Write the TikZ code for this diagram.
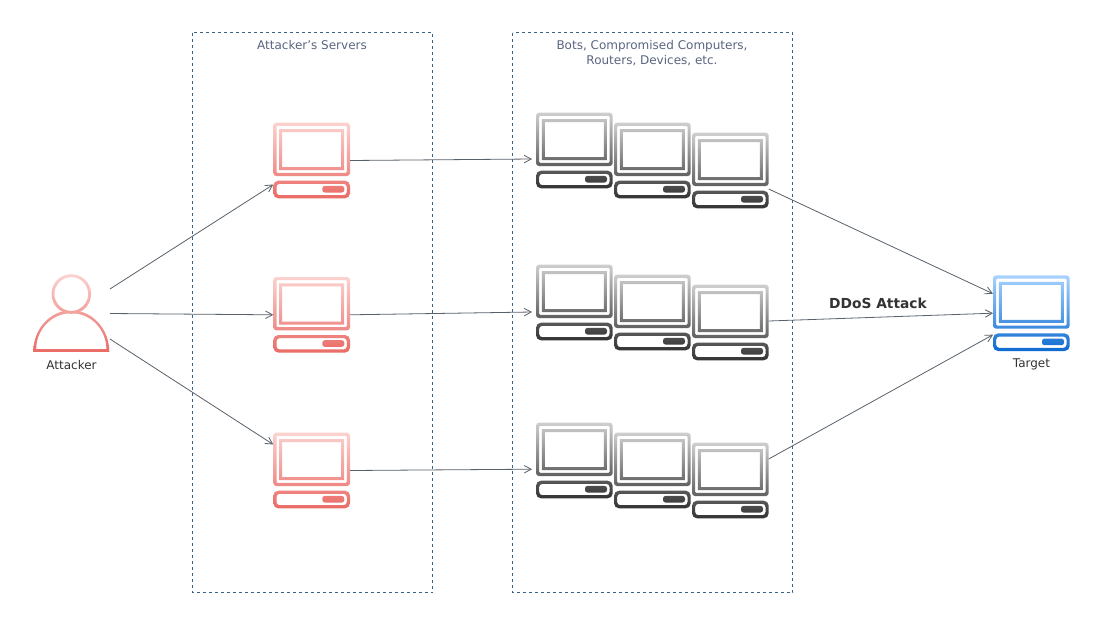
\documentclass[tikz,border=0pt]{standalone}
\usepackage{fontspec}
\setmainfont{DejaVu Sans}
\usetikzlibrary{arrows.meta}
\definecolor{rtop}{HTML}{FBD2CF}
\definecolor{rbot}{HTML}{EA6B66}
\definecolor{gtop}{HTML}{CFCFCF}
\definecolor{gbot}{HTML}{333333}
\definecolor{btop}{HTML}{A9D2FF}
\definecolor{bbot}{HTML}{0F6BD0}
\definecolor{boxc}{HTML}{3A6286}
\definecolor{capc}{HTML}{5A6580}
\definecolor{linkc}{HTML}{59616B}
\definecolor{labc}{HTML}{333333}
\tikzset{
  x=1pt,y=-1pt,
  iconbox/.style={inner sep=0pt,outer sep=0pt,minimum width=76.7pt,minimum height=75.6pt},
  group/.style={draw=boxc,line width=0.8pt,dash pattern=on 3pt off 3pt},
  link/.style={draw=linkc,line width=0.8pt,-{Straight Barb[length=7pt,width=7.5pt,line width=0.8pt]}},
  caption/.style={text=capc,font=\fontsize{12pt}{14.5pt}\selectfont,align=center,inner sep=0pt},
  label/.style={text=labc,font=\fontsize{12pt}{14pt}\selectfont,inner sep=0pt},
}
\newcommand{\computer}[5]{%
  \node[iconbox] (#1) at (#2+38.35,#3+37.8) {};
  \begin{scope}[shift={(#2,#3)}]
    \shade[even odd rule,top color=#4,bottom color=#5]
      [rounded corners=3pt] (0,0) rectangle (76.7,53.3)
      [rounded corners=1pt] (3.2,3.2) rectangle (73.5,50.1)
      [sharp corners] (5.8,6.4) rectangle (70.9,47.5)
      (8.8,9.4) rectangle (67.9,44.5)
      [rounded corners=5pt] (0,58) rectangle (76.7,75.6)
      [rounded corners=3pt] (3.2,61.2) rectangle (73.5,72.4)
      [rounded corners=2.5pt] (49,63.2) rectangle (71,69.8);
  \end{scope}}
\begin{document}
\begin{tikzpicture}
\useasboundingbox[fill=white] (0,0) rectangle (1103,625);

\draw[group] (192.5,32.5) rectangle (432.5,592.5);
\draw[group] (512.5,32.5) rectangle (792.5,592.5);
\node[caption] (capa) at (312,45.5) {Attacker's Servers};
\node[caption] (capb) at (652,53) {Bots, Compromised Computers,\\Routers, Devices, etc.};

% attacker
\node[iconbox,minimum height=77pt] (att) at (71.6,313.5) {};
\shade[even odd rule,top color=rtop!52!rbot,bottom color=rbot]
  (33.3,351.8) arc[start angle=180,delta angle=180,x radius=38,y radius=41.5] -- cycle
  (36.2,349.2) arc[start angle=180,delta angle=180,x radius=35.1,y radius=36] -- cycle;
\fill[white] (71.3,294) circle[radius=19.5];
\shade[even odd rule,top color=rtop,bottom color=rtop!50!rbot]
  (71.3,294) circle[radius=19.8] (71.3,294) circle[radius=16.9];
\node[label] (attl) at (71.5,365.5) {Attacker};

% servers
\computer{s1}{273.3}{122.7}{rtop}{rbot}
\computer{s2}{273.3}{277}{rtop}{rbot}
\computer{s3}{273.3}{432.7}{rtop}{rbot}

% bots
\computer{a1}{536}{112.7}{gtop}{gbot}
\computer{a2}{614}{122.7}{gtop}{gbot}
\computer{a3}{692}{132.7}{gtop}{gbot}
\computer{b1}{536}{264.7}{gtop}{gbot}
\computer{b2}{614}{274.7}{gtop}{gbot}
\computer{b3}{692}{284.7}{gtop}{gbot}
\computer{c1}{536}{422.7}{gtop}{gbot}
\computer{c2}{614}{432.7}{gtop}{gbot}
\computer{c3}{692}{442.7}{gtop}{gbot}

% target
\computer{t}{993}{275.4}{btop}{bbot}
\node[label] (tl) at (1031.5,364) {Target};

% connectors
\draw[link] ([yshift=24.5pt]att.east) -- ([yshift=-24pt]s1.west);
\draw[link] (att.east) -- (s2.west);
\draw[link] ([yshift=-25.5pt]att.east) -- ([yshift=26pt]s3.west);
\draw[link] (s1.east) -- ([xshift=-4pt,yshift=-8.5pt]a1.west);
\draw[link] (s2.east) -- ([xshift=-4pt,yshift=-9.5pt]b1.west);
\draw[link] (s3.east) -- ([xshift=-4pt,yshift=-8.7pt]c1.west);
\draw[link] ([yshift=-18.5pt]a3.east) -- ([yshift=19.5pt]t.west);
\draw[link] ([yshift=1.5pt]b3.east) -- (t.west);
\draw[link] ([yshift=21.5pt]c3.east) -- ([yshift=-21.5pt]t.west);

\node[text=labc,font=\bfseries\fontsize{13.8pt}{16pt}\selectfont,inner sep=0pt] (ddos) at (878,303) {DDoS Attack};
\end{tikzpicture}
\end{document}
